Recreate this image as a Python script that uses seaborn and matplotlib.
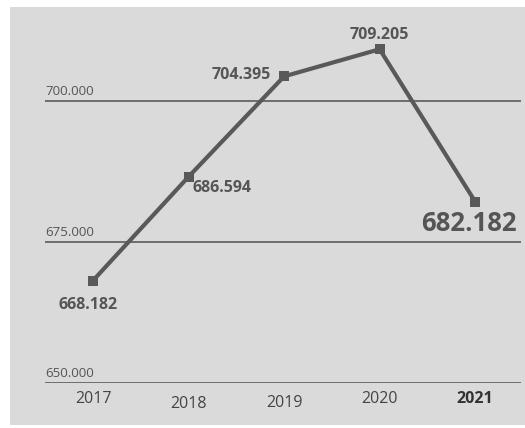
import matplotlib
matplotlib.use("Agg")
import matplotlib.pyplot as plt
import matplotlib.transforms as mtransforms
import seaborn as sns
import pandas as pd
from matplotlib.patches import Rectangle

years = ["2017", "2018", "2019", "2020", "2021"]
values = [668182, 686594, 704395, 709205, 682182]
value_labels = ["668.182", "686.594", "704.395", "709.205", "682.182"]
ytick_values = [650000, 675000, 700000]
ytick_labels = ["650.000", "675.000", "700.000"]

sns.set_theme(style="white")
plt.rcParams["font.family"] = ["Open Sans", "DejaVu Sans"]

BG = "#dadada"
LINE = "#595959"
TXT = "#555555"

fig = plt.figure(figsize=(5.25, 4.28), dpi=100)
fig.patch.set_facecolor("white")
fig.patches.append(Rectangle((10 / 525, 3 / 428), 515 / 525, 418 / 428,
                             transform=fig.transFigure, facecolor=BG,
                             edgecolor="none", zorder=-10))

ax = fig.add_axes([45 / 525, 45 / 428, 476 / 525, 376 / 428])
ax.set_facecolor("none")
ax.set_zorder(5)

df = pd.DataFrame({"x": range(len(years)), "value": values})
sns.lineplot(data=df, x="x", y="value", ax=ax, color=LINE, linewidth=3,
             marker="s", markersize=7, markeredgewidth=0, zorder=3)

ax.set_xlim(-0.503, 4.48)
ax.set_ylim(650000, 716700)

for v, lab in zip(ytick_values, ytick_labels):
    ax.axhline(v, color="#6e6e6e", linewidth=1.4, zorder=1)
    ax.annotate(lab, (0.0, v), xycoords=ax.get_yaxis_transform(),
                xytext=(0, 3), textcoords="offset pixels", ha="left",
                va="bottom", fontsize=9.5, color=TXT)

ax.set_yticks([])
ax.set_xticks(range(len(years)))
ax.set_xticklabels(years, fontsize=11.5, color="#444444")
ax.get_xticklabels()[-1].set_fontweight("bold")
ax.get_xticklabels()[-1].set_color("#333333")
ax.tick_params(axis="x", length=0, pad=6)
# slight vertical stagger of the year labels, as in the reference
stagger = [0, -5, -4, 0, 0]
for lbl, dy in zip(ax.get_xticklabels(), stagger):
    lbl.set_transform(lbl.get_transform() +
                      mtransforms.ScaledTranslation(0, dy / 100, fig.dpi_scale_trans))
ax.set_xlabel("")
ax.set_ylabel("")
for s in ax.spines.values():
    s.set_visible(False)

offsets = [(-5, -24, "center", "center", 11.5),
           (4, -11, "left", "center", 11.5),
           (-13, 1, "right", "center", 11.5),
           (0, 14, "center", "center", 11.5),
           (42, -22, "right", "center", 18.5)]
for i, (v, lab) in enumerate(zip(values, value_labels)):
    dx, dy, ha, va, fs = offsets[i]
    ax.annotate(lab, (i, v), xytext=(dx, dy), textcoords="offset pixels",
                ha=ha, va=va, fontsize=fs, fontweight="bold", color=TXT,
                zorder=4)

fig.savefig("out.png", dpi=100, facecolor=fig.get_facecolor())
